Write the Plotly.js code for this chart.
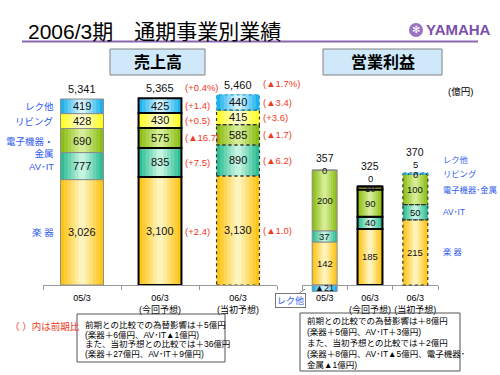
<!DOCTYPE html>
<html><head><meta charset="utf-8">
<script src="https://cdn.plot.ly/plotly-3.0.1.min.js"></script>
<style>body{margin:0;background:#fff}#chart{width:500px;height:375px}</style>
</head><body><div id="chart"></div>
<script>
// ---------- data ----------
const categories = ['05/3', '06/3<br>(今回予想)', '06/3<br>(当初予想)'];
const leftSegLabels = ['楽 器', 'AV･IT', '電子機器・<br>金属', 'リビング', 'レク他'];
const rightSegLabels = ['楽 器', 'AV･IT', '電子機器･金属', 'リビング', 'レク他'];

const salesGakki  = [3026, 3100, 3130];
const salesAvit   = [777, 835, 890];
const salesDenshi = [690, 575, 585];
const salesLiving = [428, 430, 415];
const salesRec    = [419, 425, 440];
const salesTotal  = [5341, 5365, 5460];

const chgGakki  = ['', '(+2.4)', '(▲1.0)'];
const chgAvit   = ['', '(+7.5)', '(▲6.2)'];
const chgDenshi = ['', '(▲16.7)', '(▲1.7)'];
const chgLiving = ['', '(+0.5)', '(+3.6)'];
const chgRec    = ['', '(+1.4)', '(▲3.4)'];
const chgTotal  = ['', '(+0.4%)', '(▲1.7%)'];

const opGakki  = [142, 185, 215];
const opAvit   = [37, 40, 50];
const opDenshi = [200, 90, 100];
const opLiving = [0, 10, 0];
const opRec    = [-21, 0, 5];
const opTotal  = [357, 325, 370];

const noteLeft = ['前期との比較での為替影響は＋5億円', '(楽器＋6億円、AV･IT▲1億円)',
  'また、当初予想との比較では＋36億円', '(楽器＋27億円、AV･IT＋9億円)'];
const noteRight = ['前期との比較での為替影響は＋8億円', '(楽器＋5億円、AV･IT＋3億円)',
  'また、当初予想との比較では＋2億円', '(楽器＋8億円、AV･IT▲5億円、電子機器･', '金属▲1億円)'];

// ---------- styling helpers ----------
const W = 500, H = 375;
const px = x => x / W, py = y => 1 - y / H;
const fmt = v => (v < 0 ? '▲' : '') + Math.abs(v).toLocaleString('en-US');
const FONT = 'Liberation Sans, Noto Sans CJK JP, sans-serif';
const BLUE = '#2F5BF0', RED = '#F03A1E';
const BAR_W = 0.55;
const segEdge   = ['#FFC515', '#2DBE94', '#8CBF16', '#FFFF26', '#1DB2EE'];
const segCenter = ['#FFF3BC', '#C4F3E0', '#D6EC96', '#FFFFD2', '#D2F1FF'];
const LAYERS = 6;

function hex(h){ return [1,3,5].map(i => parseInt(h.substr(i,2),16)); }
function mix(a, b, t){ const A = hex(a), B = hex(b); return 'rgb(' + A.map((v,i)=>Math.round(v+(B[i]-v)*t)).join(',') + ')'; }

function bases(segs){
  const n = segs[0].length, pos = Array(n).fill(0), neg = Array(n).fill(0);
  const b = segs.map(vals => vals.map((v,i) => { let r; if (v >= 0) { r = pos[i]; pos[i] += v; } else { r = neg[i]; neg[i] += v; } return r; }));
  return {b, pos};
}

const traces = [], shapes = [], annotations = [];
function txt(o){ return Object.assign({showarrow:false, xanchor:'center', yanchor:'middle'}, o); }

function addStack(segs, xa, ya){
  const {b, pos} = bases(segs);
  segs.forEach((vals, s) => {
    for (let k = 0; k < LAYERS; k++) {
      traces.push({type:'bar', x:categories, y:vals, base:b[s], xaxis:xa, yaxis:ya,
        width: BAR_W * (1 - k / LAYERS), hoverinfo:'skip',
        marker:{color: mix(segEdge[s], segCenter[s], k/(LAYERS-1)), line:{width:0}}});
    }
    traces.push({type:'bar', x:categories, y:vals, base:b[s], xaxis:xa, yaxis:ya, width:BAR_W, hoverinfo:'skip',
      marker:{color:'rgba(0,0,0,0)', line:{color:['#8c8c8c','#000000','rgba(0,0,0,0)'], width:[1,2,0]}}});
    const i = 2;
    shapes.push({type:'rect', xref:xa, yref:ya, x0:i-BAR_W/2, x1:i+BAR_W/2, y0:b[s][i], y1:b[s][i]+vals[i],
      line:{color: s===4 ? '#3aa0d0' : '#333', width:1.2, dash:'dot'}});
  });
  return {b, pos};
}

// ---------- sales ----------
const salesSegs = [salesGakki, salesAvit, salesDenshi, salesLiving, salesRec];
const salesChg = [chgGakki, chgAvit, chgDenshi, chgLiving, chgRec];
const S = addStack(salesSegs, 'x', 'y');
salesSegs.forEach((vals, s) => vals.forEach((v, i) => {
  const mid = S.b[s][i] + v/2;
  annotations.push(txt({xref:'x', yref:'y', x:i, y:mid, text:fmt(v), font:{size:11, color:'#111'}}));
  if (salesChg[s][i]) annotations.push(txt({xref:'x', yref:'y', x:i, y:mid, xanchor:'left', xshift:23, text:salesChg[s][i], font:{size:9.5, color:RED}}));
}));
salesTotal.forEach((t, i) => {
  annotations.push(txt({xref:'x', yref:'y', x:i, y:S.pos[i], yshift:10, text:fmt(t), font:{size:11, color:'#111'}}));
  if (chgTotal[i]) annotations.push(txt({xref:'x', yref:'y', x:i, y:S.pos[i], yshift:11, xanchor:'left', xshift:23, text:chgTotal[i], font:{size:9.5, color:RED}}));
});
salesSegs.forEach((vals, s) => {
  annotations.push(txt({xref:'paper', yref:'y', x:px(56), xanchor:'right', y:S.b[s][0] + vals[0]/2, yshift: s===2 ? -7 : 0,
    text:leftSegLabels[s], align:'right', font:{size:9.5, color:BLUE}}));
});

// ---------- operating profit ----------
const opSegs = [opGakki, opAvit, opDenshi, opLiving, opRec];
const O = addStack(opSegs, 'x2', 'y2');
opTotal.forEach((t, i) => {
  let firstSmall = null, k = 0;
  opSegs.forEach((vals, s) => {
    const v = vals[i], base = O.b[s][i];
    let y = base + v/2, ys = 0;
    if (v >= 0 && v < 15) {
      if (firstSmall === null) { firstSmall = y; } else { y = firstSmall; ys = 10 * k; }
      k++;
    }
    annotations.push(txt({xref:'x2', yref:'y2', x:i, y:y, yshift:ys, text:fmt(v), font:{size: v < 0 ? 9 : 9.5, color:'#111'}}));
  });
  const ty = firstSmall === null ? O.pos[i] : firstSmall;
  const tsh = firstSmall === null ? 10 : 10*(k-1) + 12;
  annotations.push(txt({xref:'x2', yref:'y2', x:i, y:ty, yshift:tsh, text:fmt(t), font:{size:10.5, color:'#111'}}));
});
{
  let firstSmall = null, k = 0;
  opSegs.forEach((vals, s) => {
    const v = vals[2]; let y = O.b[s][2] + v/2, ys = 0;
    if (v >= 0 && v < 15) { if (firstSmall === null) firstSmall = y; else { y = firstSmall; ys = 14*k; } k++; }
    annotations.push(txt({xref:'paper', yref:'y2', x:px(441), xanchor:'left', y:y, yshift:ys, text:rightSegLabels[s], font:{size:8.3, color:BLUE}}));
  });
}

// ---------- decorations ----------
annotations.push(txt({xref:'paper', yref:'paper', x:px(26), y:py(31), xanchor:'left', text:'2006/3期　通期事業別業績', font:{size:21, color:'#000'}}));
shapes.push({type:'line', xref:'paper', yref:'paper', x0:px(22), x1:px(478), y0:py(41.5), y1:py(41.5), line:{color:'#8A68B0', width:2}});
shapes.push({type:'circle', xref:'paper', yref:'paper', x0:px(409), x1:px(423), y0:py(23), y1:py(37), fillcolor:'#9B72C4', line:{width:0}});
annotations.push(txt({xref:'paper', yref:'paper', x:px(416), y:py(30), text:'✻', font:{size:10, color:'#fff'}}));
annotations.push(txt({xref:'paper', yref:'paper', x:px(424), y:py(30), xanchor:'left', text:'<b>YAMAHA</b>', font:{size:15, color:'#7A50AA', family:'Liberation Sans Narrow, Liberation Sans, sans-serif'}}));

shapes.push({type:'rect', xref:'paper', yref:'paper', x0:px(110), x1:px(205), y0:py(49), y1:py(75), fillcolor:'#CFE9FA', line:{color:'#808080', width:1}});
shapes.push({type:'rect', xref:'paper', yref:'paper', x0:px(323), x1:px(442), y0:py(49), y1:py(75), fillcolor:'#CFE9FA', line:{color:'#808080', width:1}});
annotations.push(txt({xref:'paper', yref:'paper', x:px(157.5), y:py(62), text:'<b>売上高</b>', font:{size:16, color:'#000'}}));
annotations.push(txt({xref:'paper', yref:'paper', x:px(382.5), y:py(62), text:'<b>営業利益</b>', font:{size:16, color:'#000'}}));
annotations.push(txt({xref:'paper', yref:'paper', x:px(460), y:py(92), text:'(億円)', font:{size:9.5, color:'#000'}}));

annotations.push(txt({xref:'paper', yref:'paper', x:px(8), y:py(326), xanchor:'left', text:'（ ）内は前期比', font:{size:9.5, color:RED}}));
shapes.push({type:'rect', xref:'paper', yref:'paper', x0:px(77), x1:px(225), y0:py(314), y1:py(362), line:{color:'#555', width:1}});
noteLeft.forEach((t, j) => annotations.push(txt({xref:'paper', yref:'paper', x:px(83), y:py(325 + 9.5*j), xanchor:'left', text:t, font:{size:8.5, color:'#000'}})));
shapes.push({type:'rect', xref:'paper', yref:'paper', x0:px(300), x1:px(460), y0:py(313), y1:py(371), line:{color:'#555', width:1}});
noteRight.forEach((t, j) => annotations.push(txt({xref:'paper', yref:'paper', x:px(305), y:py(321 + 11*j), xanchor:'left', text:t, font:{size:8.5, color:'#000'}})));

annotations.push({xref:'paper', yref:'paper', x:px(305), y:py(289), ax:-15, ay:11, text:'レク他', showarrow:true, arrowhead:0, arrowwidth:1, arrowcolor:'#777',
  bordercolor:'#777', borderwidth:1, borderpad:1, bgcolor:'#fff', font:{size:9, color:BLUE}});

const axX = {type:'category', range:[-0.5, 2.5], autorange:false, tickson:'boundaries', ticks:'outside', ticklen:4, tickcolor:'#999', showline:true, linecolor:'#999', linewidth:1,
  showgrid:false, zeroline:false, tickangle:0, ticklabelstandoff:4, tickfont:{size:9, color:'#000'}, fixedrange:true};
const layout = {
  width:W, height:H, margin:{l:0, r:0, t:0, b:0}, paper_bgcolor:'#fff', plot_bgcolor:'rgba(0,0,0,0)',
  showlegend:false, barmode:'overlay', font:{family:FONT, color:'#000'},
  xaxis: Object.assign({}, axX, {domain:[px(43), px(277)], anchor:'y'}),
  yaxis: {domain:[py(285), py(60)], range:[0, 225/0.03483], autorange:false, visible:false, fixedrange:true},
  xaxis2: Object.assign({}, axX, {domain:[px(302), px(438)], anchor:'free', position:py(285)}),
  yaxis2: {domain:[py(300), py(60)], range:[-15/0.303, 225/0.303], autorange:false, visible:false, fixedrange:true, anchor:'x2'},
  shapes, annotations
};
Plotly.newPlot('chart', traces, layout, {staticPlot:true, displayModeBar:false});
</script></body></html>
